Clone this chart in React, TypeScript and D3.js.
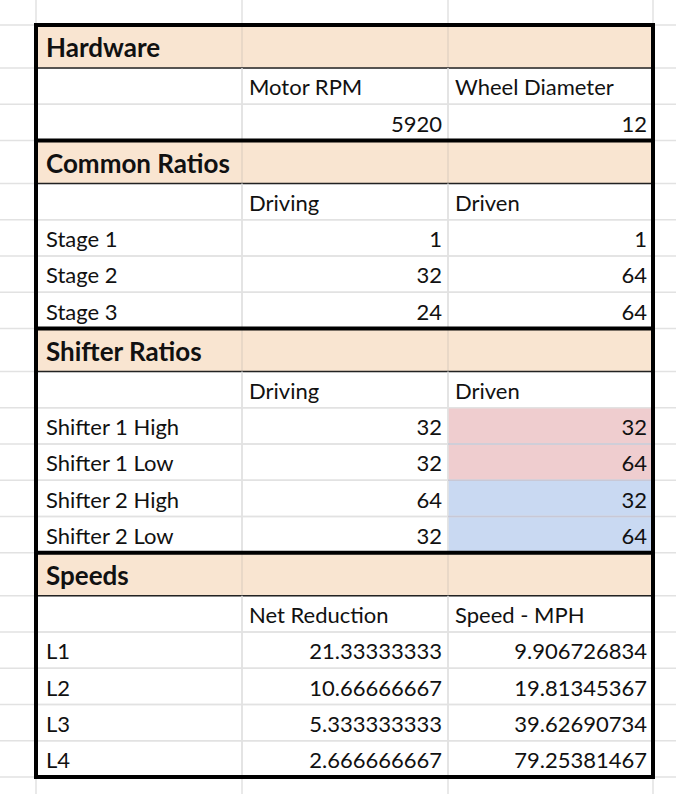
import * as d3 from "d3";

// sections of the sheet
const sections = ["Hardware", "Common Ratios", "Shifter Ratios", "Speeds"];
const hardwareHead = ["", "Motor RPM", "Wheel Diameter"];
const hardwareVals = [5920, 12];
const ratioHead = ["", "Driving", "Driven"];
const stageLabels = ["Stage 1", "Stage 2", "Stage 3"];
const stageDriving = [1, 32, 24];
const stageDriven = [1, 64, 64];
const shifterLabels = ["Shifter 1 High", "Shifter 1 Low", "Shifter 2 High", "Shifter 2 Low"];
const shifterDriving = [32, 32, 64, 32];
const shifterDriven = [32, 64, 32, 64];
const speedHead = ["", "Net Reduction", "Speed - MPH"];
const speedLabels = ["L1", "L2", "L3", "L4"];
const netReduction = ["21.33333333", "10.66666667", "5.333333333", "2.666666667"];
const speedMph = ["9.906726834", "19.81345367", "39.62690734", "79.25381467"];

type Cell = { text: string; align: "start" | "end"; bold?: boolean; fill?: string };
type Row = { kind: "head" | "row"; cells: Cell[] };

const txt = (t: string | number, align: "start" | "end" = "end"): Cell => ({ text: String(t), align });

const rows: Row[] = [];
const head = (t: string) => rows.push({ kind: "head", cells: [{ text: t, align: "start", bold: true }] });
const labels = (a: string[]) => rows.push({ kind: "row", cells: a.map((t) => txt(t, "start")) });

head(sections[0]);
labels(hardwareHead);
rows.push({ kind: "row", cells: [txt(""), ...hardwareVals.map((v) => txt(v))] });
head(sections[1]);
labels(ratioHead);
stageLabels.forEach((l, i) =>
  rows.push({ kind: "row", cells: [txt(l, "start"), txt(stageDriving[i]), txt(stageDriven[i])] })
);
head(sections[2]);
labels(ratioHead);
shifterLabels.forEach((l, i) =>
  rows.push({
    kind: "row",
    cells: [
      txt(l, "start"),
      txt(shifterDriving[i]),
      { ...txt(shifterDriven[i]), fill: i < 2 ? "#efcdcf" : "#c9d9f2" },
    ],
  })
);
head(sections[3]);
labels(speedHead);
speedLabels.forEach((l, i) =>
  rows.push({ kind: "row", cells: [txt(l, "start"), txt(netReduction[i]), txt(speedMph[i])] })
);

const W = 676;
const H = 794;
const top = 25;
const headH = 43;
const rowH = 36.25;
const colX = [36, 242, 448, 653];

export default function App() {
  const ys: number[] = [];
  let y = top;
  rows.forEach((r) => {
    ys.push(y);
    y += r.kind === "head" ? headH : rowH;
  });
  const bottom = y;
  const xScale = d3.scaleOrdinal<number, number>().domain([0, 1, 2, 3]).range(colX);
  const gridYs = [top - rowH, ...ys, bottom, bottom + rowH];
  const font = "'Lato', 'Open Sans', sans-serif";

  return (
    <svg width={W} height={H} style={{ position: "absolute", left: 0, top: 0, background: "#fff" }}>
      {/* sheet grid */}
      {gridYs.map((g, i) => (
        <line key={"h" + i} x1={0} x2={W} y1={g} y2={g} stroke="#e2e2e2" strokeWidth={1.5} />
      ))}
      {colX.map((c, i) => (
        <line key={"v" + i} x1={c} x2={c} y1={0} y2={H} stroke="#e2e2e2" strokeWidth={1.5} />
      ))}
      {rows.map((r, ri) => {
        const h = r.kind === "head" ? headH : rowH;
        const y0 = ys[ri];
        return (
          <g key={ri}>
            {r.kind === "head" && (
              <rect x={colX[0]} y={y0} width={colX[3] - colX[0]} height={h} fill="#f9e5d1" />
            )}
            {r.cells.map((c, ci) =>
              c.fill ? (
                <rect key={"f" + ci} x={xScale(ci)} y={y0} width={xScale(ci + 1) - xScale(ci)} height={h} fill={c.fill} />
              ) : null
            )}
            {[1, 2].map((ci) => (
              <line key={"c" + ci} x1={xScale(ci)} x2={xScale(ci)} y1={y0} y2={y0 + h}
                stroke={r.kind === "head" ? "#e3d3c3" : "#e2e2e2"} strokeWidth={1.5} />
            ))}
            {ri > 0 && rows[ri - 1].kind !== "head" && (
              <line x1={colX[0]} x2={colX[3]} y1={y0} y2={y0} stroke="#e2e2e2" strokeWidth={1.5} />
            )}
            {ri > 0 && rows[ri - 1].kind !== "head" && r.cells[2]?.fill && rows[ri - 1].cells[2]?.fill && (
              <line x1={colX[2]} x2={colX[3]} y1={y0} y2={y0} stroke="#c8c8d6" strokeWidth={1.5} />
            )}
            {r.kind === "head" && (
              <line x1={colX[0]} x2={colX[3]} y1={y0 + h} y2={y0 + h} stroke="#222" strokeWidth={1.5} />
            )}
            {r.cells.map((c, ci) =>
              c.text ? (
                <text key={ci}
                  x={c.align === "start" ? xScale(ci) + (ci === 0 ? 10 : 7) : xScale(ci + 1) - 6}
                  y={y0 + h - (r.kind === "head" ? 11 : 9)}
                  textAnchor={c.align}
                  fontFamily={font}
                  fontSize={r.kind === "head" ? 26 : 22}
                  fontWeight={c.bold ? 700 : 400}
                  fill="#111">
                  {c.text}
                </text>
              ) : null
            )}
          </g>
        );
      })}
      {/* thick section borders */}
      {ys.filter((_, i) => rows[i].kind === "head").concat([bottom]).map((sy, i) => (
        <line key={"t" + i} x1={colX[0] - 2} x2={colX[3] + 2} y1={sy} y2={sy} stroke="#000" strokeWidth={4} />
      ))}
      <line x1={colX[0]} x2={colX[0]} y1={top} y2={bottom} stroke="#000" strokeWidth={4} />
      <line x1={colX[3]} x2={colX[3]} y1={top} y2={bottom} stroke="#000" strokeWidth={4} />
    </svg>
  );
}
